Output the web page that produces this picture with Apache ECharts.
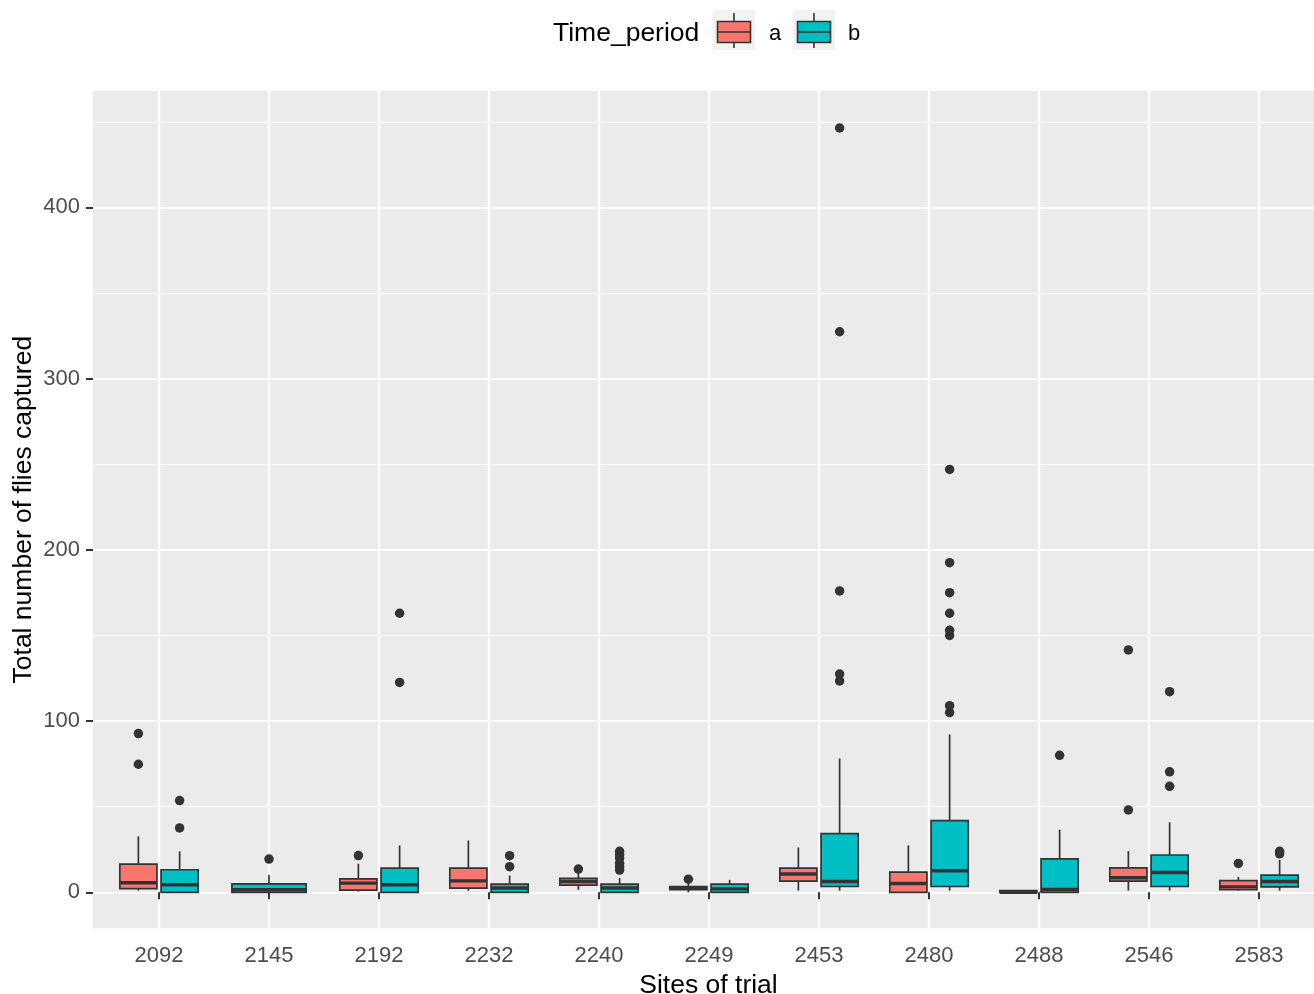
<!DOCTYPE html>
<html>
<head>
<meta charset="utf-8">
<script src="https://cdn.jsdelivr.net/npm/echarts@6/dist/echarts.min.js"></script>
<style>
html,body{margin:0;padding:0;background:#fff;}
#chart{width:1314px;height:994px;}
</style>
</head>
<body>
<div id="chart"></div>
<script>
// ---------- data ----------
const sites = ['2092','2145','2192','2232','2240','2249','2453','2480','2488','2546','2583'];
const groups = ['a','b'];
const yTicks = [0, 100, 200, 300, 400];
const yMinorTicks = [50, 150, 250, 350, 450];

// [min whisker, Q1, median, Q3, max whisker]; null = group absent at that site
const boxA = [
  [1, 2.2, 5.6, 16.5, 32.7],
  null,
  [0.5, 1.3, 5.4, 7.9, 16.7],
  [0.9, 2.5, 6.7, 14.2, 30.3],
  [1.5, 4.2, 6.3, 8.1, 11.2],
  [0, 1.5, 2.3, 3.3, 6],
  [1, 6.6, 10.7, 14.2, 26.2],
  [0, 0, 5.2, 11.8, 27.4],
  [0, 0, 0, 1, 1],
  [1, 6.6, 8.5, 14.3, 24.1],
  [1, 1.5, 3.2, 6.9, 9]
];
const boxB = [
  [0, 0, 4.4, 13.2, 23.9],
  [0, 0, 1.5, 5, 10.2],
  [0, 0, 4.4, 14.2, 27.4],
  [0, 0, 2.5, 4.8, 9.8],
  [0, 0, 2.5, 4.8, 8.3],
  [0, 0, 2, 4.8, 7.3],
  [1, 3.4, 6.3, 34.3, 78.2],
  [1, 3.4, 12.6, 41.9, 92.2],
  [0, 0, 1.7, 19.6, 36.6],
  [1, 3.4, 11.6, 21.8, 40.9],
  [1, 3.2, 6.3, 10.1, 19]
];
const outA = [
  [92.7, 74.8], [], [21.5], [], [13.6], [7.7], [], [], [], [141.6, 48.1], [16.9]
];
const outB = [
  [53.6, 37.6], [19.4], [163, 122.6], [21.4, 15], [24, 22, 20, 17, 15, 13], [],
  [446.4, 327.4, 176, 127.5, 123.5],
  [247, 192.5, 175, 163, 153, 150, 109, 105],
  [80], [117.2, 70.4, 61.9], [24, 22.5]
];

// ---------- styling ----------
const COL_A = '#F8766D', COL_B = '#00BFC4', EDGE = '#333333';
const FONT = '"Liberation Sans", Arial, sans-serif';
const DODGE = 0.75, PAD = 0.1;

// dodge (ggplot position_dodge2-like): slot positions per site
function dodgeInfo(siteIdx, group) {
  const present = [boxA[siteIdx] != null, boxB[siteIdx] != null];
  const n = present.filter(Boolean).length;
  const slot = DODGE / n;
  let k = 0;
  for (let g = 0; g < group; g++) if (present[g]) k++;
  const offset = -DODGE / 2 + slot * (k + 0.5);
  return { offset: offset, width: slot * (1 - PAD) };
}

function buildBoxes(boxes, gi) {
  const data = [], dodge = [];
  boxes.forEach((b, i) => {
    if (!b) return;
    data.push([i + 1].concat(b));
    dodge.push(dodgeInfo(i, gi));
  });
  return { data, dodge };
}
function buildOut(outs, boxes, gi) {
  const data = [];
  outs.forEach((arr, i) => {
    if (!boxes[i]) return;
    const d = dodgeInfo(i, gi);
    arr.forEach(v => data.push([i + 1 + d.offset, v]));
  });
  return data;
}

function makeRender(dodge, color) {
  return function (params, api) {
    const d = dodge[params.dataIndex];
    const c = api.value(0) + d.offset;
    const left = api.coord([c - d.width / 2, 0])[0];
    const right = api.coord([c + d.width / 2, 0])[0];
    const cx = api.coord([c, 0])[0];
    const yMin = api.coord([c, api.value(1)])[1];
    const yQ1 = api.coord([c, api.value(2)])[1];
    const yMed = api.coord([c, api.value(3)])[1];
    const yQ3 = api.coord([c, api.value(4)])[1];
    const yMax = api.coord([c, api.value(5)])[1];
    const lineStyle = { stroke: EDGE, lineWidth: 1.7 };
    return {
      type: 'group',
      children: [
        { type: 'line', shape: { x1: cx, y1: yQ3, x2: cx, y2: yMax }, style: lineStyle },
        { type: 'line', shape: { x1: cx, y1: yQ1, x2: cx, y2: yMin }, style: lineStyle },
        { type: 'rect', shape: { x: left, y: yQ3, width: right - left, height: yQ1 - yQ3 },
          style: { fill: color, stroke: EDGE, lineWidth: 1.7 } },
        { type: 'line', shape: { x1: left, y1: yMed, x2: right, y2: yMed },
          style: { stroke: EDGE, lineWidth: 3.4 } }
      ]
    };
  };
}

const bA = buildBoxes(boxA, 0), bB = buildBoxes(boxB, 1);

// legend glyph helper (not data)
function keyGlyph(x, color) {
  return [
    { type: 'rect', shape: { x: x, y: 10, width: 42, height: 40 }, style: { fill: '#F2F2F2' } },
    { type: 'line', shape: { x1: x + 21, y1: 13, x2: x + 21, y2: 21.5 }, style: { stroke: EDGE, lineWidth: 1.6 } },
    { type: 'line', shape: { x1: x + 21, y1: 42.5, x2: x + 21, y2: 48 }, style: { stroke: EDGE, lineWidth: 1.6 } },
    { type: 'rect', shape: { x: x + 4.5, y: 21.5, width: 33, height: 21 }, style: { fill: color, stroke: EDGE, lineWidth: 1.6 } },
    { type: 'line', shape: { x1: x + 4.5, y1: 32, x2: x + 37.5, y2: 32 }, style: { stroke: EDGE, lineWidth: 1.6 } }
  ];
}

const legendEls = keyGlyph(713, COL_A).concat(keyGlyph(793, COL_B)).concat([
  { type: 'text', x: 553, y: 34, style: { text: 'Time_period', font: '26.5px ' + FONT, fill: '#000000', verticalAlign: 'middle' } },
  { type: 'text', x: 769, y: 34, style: { text: 'a', font: '22px ' + FONT, fill: '#000000', verticalAlign: 'middle' } },
  { type: 'text', x: 848, y: 34, style: { text: 'b', font: '22px ' + FONT, fill: '#000000', verticalAlign: 'middle' } }
]);

const chart = echarts.init(document.getElementById('chart'), null, { renderer: 'canvas' });
chart.setOption({
  animation: false,
  backgroundColor: '#FFFFFF',
  textStyle: { fontFamily: FONT },
  grid: {
    left: 93, right: 0, top: 91, height: 837.3,
    show: true, backgroundColor: '#EBEBEB', borderWidth: 0,
    containLabel: false, outerBoundsMode: 'none'
  },
  xAxis: {
    type: 'value', min: 0.4, max: 11.5,
    name: 'Sites of trial', nameLocation: 'middle', nameGap: 44, nameMoveOverlap: false,
    nameTextStyle: { fontSize: 26.5, color: '#000000', fontFamily: FONT, padding: [0, 0, 0, 10] },
    axisLine: { show: false },
    axisTick: { show: true, length: 7, lineStyle: { color: EDGE, width: 2 },
      customValues: sites.map((s, i) => i + 1) },
    axisLabel: { show: true, fontSize: 22, color: '#4D4D4D', margin: 17, fontFamily: FONT,
      customValues: sites.map((s, i) => i + 1),
      formatter: v => sites[Math.round(v) - 1] },
    splitLine: { show: true, lineStyle: { color: '#FFFFFF', width: 2.2 } }
  },
  yAxis: [
    {
      type: 'value', min: -21, max: 468,
      name: 'Total number of flies captured', nameLocation: 'middle', nameGap: 56, nameMoveOverlap: false,
      nameTextStyle: { fontSize: 26.5, color: '#000000', fontFamily: FONT },
      axisLine: { show: false },
      axisTick: { show: true, length: 7, lineStyle: { color: EDGE, width: 2 }, customValues: yTicks },
      axisLabel: { show: true, fontSize: 22, color: '#4D4D4D', margin: 13, fontFamily: FONT, customValues: yTicks },
      splitLine: { show: true, lineStyle: { color: '#FFFFFF', width: 2.2 } }
    },
    {
      type: 'value', min: -21, max: 468, position: 'left',
      axisLine: { show: false },
      axisTick: { show: false, customValues: yMinorTicks },
      axisLabel: { show: false, customValues: yMinorTicks },
      splitLine: { show: true, lineStyle: { color: '#FFFFFF', width: 1.1 } }
    }
  ],
  graphic: legendEls,
  series: [
    { name: 'a', type: 'custom', xAxisIndex: 0, yAxisIndex: 0, data: bA.data,
      encode: { x: 0, y: [1, 2, 3, 4, 5] }, renderItem: makeRender(bA.dodge, COL_A), z: 3 },
    { name: 'b', type: 'custom', xAxisIndex: 0, yAxisIndex: 0, data: bB.data,
      encode: { x: 0, y: [1, 2, 3, 4, 5] }, renderItem: makeRender(bB.dodge, COL_B), z: 3 },
    { name: 'a outliers', type: 'scatter', xAxisIndex: 0, yAxisIndex: 0, data: buildOut(outA, boxA, 0),
      symbol: 'circle', symbolSize: 9.5, itemStyle: { color: EDGE, opacity: 1 }, z: 4 },
    { name: 'b outliers', type: 'scatter', xAxisIndex: 0, yAxisIndex: 0, data: buildOut(outB, boxB, 1),
      symbol: 'circle', symbolSize: 9.5, itemStyle: { color: EDGE, opacity: 1 }, z: 4 }
  ]
});
</script>
</body>
</html>
